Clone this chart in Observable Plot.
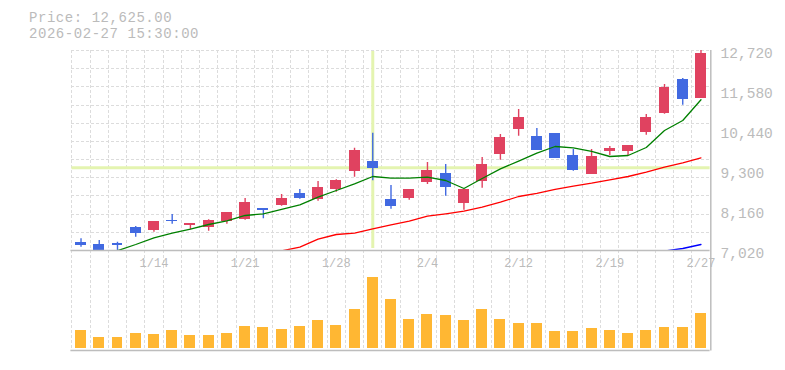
<!DOCTYPE html>
<html><head><meta charset="utf-8">
<script src="https://cdn.jsdelivr.net/npm/d3@7"></script>
<script src="https://cdn.jsdelivr.net/npm/@observablehq/plot@0.6"></script>
<style>
body{margin:0;background:#fff;}
#wrap{position:relative;width:785px;height:370px;overflow:hidden;background:#fff;}
#wrap svg{position:absolute;left:0;background:transparent;}
.hdr{position:absolute;left:29px;font-family:"Liberation Mono",monospace;font-size:14px;letter-spacing:0.55px;color:#bbb;line-height:16px;height:16px;white-space:pre;z-index:2;}
</style></head><body>
<div id="wrap"></div>
<script>
// ---- data ----
const dates = ["1/7","1/8","1/9","1/13","1/14","1/15","1/16","1/19","1/20","1/21","1/22","1/23","1/26","1/27","1/28","1/29","1/30","2/2","2/3","2/4","2/5","2/6","2/9","2/10","2/12","2/13","2/16","2/17","2/18","2/19","2/20","2/24","2/25","2/26","2/27"];
const opens  = [7239,7191,7210,7676,7599,7884,7741,7684,7855,7912,8217,8311,8645,8483,8768,9271,9565,8474,8511,8967,9215,8368,8995,9764,10477,10269,10355,9727,9195,9850,9850,10392,10933,11894,11361];
const highs  = [7353,7305,7257,7704,7847,8046,7790,7894,8103,8502,8217,8616,8758,8986,9035,9936,10363,8872,8758,9528,9471,8758,9670,10326,11039,10497,10355,9898,9898,9984,10013,10896,11751,11922,12720];
const lows   = [7114,7000,7000,7399,7542,7770,7610,7570,7770,7884,7922,8283,8483,8425,8682,9109,9006,8197,8454,8901,8568,8169,8796,9594,10278,9879,9651,9280,9195,9727,9727,10307,10905,11161,11361];
const closes = [7171,7020,7171,7513,7847,7847,7790,7875,8103,8388,8169,8502,8511,8816,9015,9870,9366,8283,8758,9300,8824,8758,9471,10241,10810,9879,9651,9309,9699,9927,10013,10810,11666,11332,12625];
const volumes = [18,11,11,15,14,18,13,13,15,22,21,19,22,28,23,39,71,49,29,34,33,28,39,29,25,25,17,17,20,18,15,18,21,21,35];
const ma5  = [null,null,7015,7191,7382,7513,7627,7761,7866,8018,8066,8189,8322,8539,8730,8921,9129,9081,9081,9109,9015,8787,9072,9348,9565,9793,9984,9947,9842,9699,9728,9956,10440,10725,11315];
const ma25 = [null,null,null,null,null,null,null,null,null,null,null,7010,7114,7342,7476,7513,7638,7752,7855,7998,8066,8140,8254,8397,8559,8645,8759,8853,8938,9035,9129,9252,9394,9519,9662];
const ma75 = [null,null,null,null,null,null,null,null,null,null,null,null,null,null,null,null,null,null,null,null,null,null,null,null,null,null,null,null,null,null,null,null,7005,7077,7191];
const yTicks = [7020,8160,9300,10440,11580,12720];
const xTickLabels = ["1/14","1/21","1/28","2/4","2/12","2/19","2/27"];
const crossDate = "1/30";
const crossPrice = 9377;
const headerPrice = "Price: 12,625.00";
const headerTime = "2026-02-27 15:30:00";

// ---- build ----
const n = dates.length;
const rows = d3.range(n).map(i => ({i, date: dates[i], open: opens[i], high: highs[i], low: lows[i], close: closes[i], vol: volumes[i], up: closes[i] >= opens[i]}));
const RED = "#e04260", BLUE = "#4169e1";
const GRID = "#dcdcdc", AXIS = "#bdbdbd", LABEL = "#bbbbbb";
const xDomain = [-0.5, n - 0.5];
const yDomain = [yTicks[0], yTicks[yTicks.length - 1]];
const gridX = d3.range(n + 1).map(k => k - 0.5);
const gridY = d3.range(1, 12).map(k => yDomain[0] + k * (yDomain[1] - yDomain[0]) / 11);
const maSeries = (arr) => arr.map((v, i) => ({i, v})).filter(d => d.v != null);
const ML = 71.4, MR = 785 - 709.6;

const price = Plot.plot({
  width: 785, height: 270,
  marginTop: 50, marginBottom: 20, marginLeft: ML, marginRight: MR,
  x: {domain: xDomain, axis: null},
  y: {domain: yDomain, axis: null},
  style: {background: "transparent", overflow: "visible"},
  marks: [
    Plot.ruleY(gridY, {stroke: GRID, strokeDasharray: "3,2", shapeRendering: "crispEdges"}),
    Plot.ruleX(gridX.slice(0, n), {stroke: GRID, strokeDasharray: "3,2", insetBottom: -20, shapeRendering: "crispEdges"}),
    Plot.ruleY([crossPrice], {stroke: "#e4f4b0", strokeWidth: 3}),
    Plot.ruleX([dates.indexOf(crossDate)], {stroke: "#e4f4b0", strokeWidth: 3, insetTop: 1, insetBottom: 2}),
    Plot.ruleX(rows, {x: "i", y1: "low", y2: "high", stroke: d => d.up ? RED : BLUE, strokeWidth: 1.4, clip: true}),
    Plot.rect(rows, {x1: d => d.i - 0.3, x2: d => d.i + 0.3, y1: "open", y2: "close", fill: d => d.up ? RED : BLUE, shapeRendering: "crispEdges", clip: true}),
    Plot.line(maSeries(ma5), {x: "i", y: "v", stroke: "#008000", strokeWidth: 1.3, clip: true}),
    Plot.line(maSeries(ma25), {x: "i", y: "v", stroke: "#ff0000", strokeWidth: 1.3, clip: true}),
    Plot.line(maSeries(ma75), {x: "i", y: "v", stroke: "#0000ff", strokeWidth: 1.3, clip: true}),
    Plot.ruleY([yDomain[0]], {stroke: AXIS, strokeWidth: 1.5, insetLeft: -1}),
    Plot.ruleX([xDomain[1]], {stroke: AXIS, strokeWidth: 1.5, dx: 0.7, insetBottom: -20}),
    Plot.text(yTicks, {x: xDomain[1], y: d => d, text: d => d3.format(",")(d), textAnchor: "start", dx: 10.5, dy: 2.7, fill: LABEL, fontFamily: "Liberation Mono", fontSize: 14.5}),
    Plot.text(xTickLabels, {x: d => dates.indexOf(d), y: yDomain[0], text: d => d, dy: 12.5, fill: LABEL, fontFamily: "Liberation Mono", fontSize: 12, letterSpacing: "-1.3px"})
  ]
});
price.style.top = "0px";

const vol = Plot.plot({
  width: 785, height: 100,
  marginTop: 0, marginBottom: 22, marginLeft: ML, marginRight: MR,
  x: {domain: xDomain, axis: null},
  y: {domain: [0, 78], axis: null},
  style: {background: "transparent", overflow: "visible"},
  marks: [
    Plot.ruleX(gridX.slice(0, n), {stroke: GRID, strokeDasharray: "3,2", insetBottom: -2, shapeRendering: "crispEdges"}),
    Plot.rect(rows, {x1: d => d.i - 0.3, x2: d => d.i + 0.3, y1: 0, y2: "vol", fill: "#ffb733", shapeRendering: "crispEdges"}),
    Plot.ruleY([0], {stroke: AXIS, strokeWidth: 1.5, dy: 2, insetLeft: -1}),
    Plot.ruleX([xDomain[1]], {stroke: AXIS, strokeWidth: 1.5, dx: 0.7, insetBottom: -2.5})
  ]
});
vol.style.top = "270px";

const wrap = document.getElementById("wrap");
wrap.appendChild(price);
wrap.appendChild(vol);
const h1 = document.createElement("div"); h1.className = "hdr"; h1.style.top = "10px"; h1.textContent = headerPrice;
const h2 = document.createElement("div"); h2.className = "hdr"; h2.style.top = "26px"; h2.textContent = headerTime;
wrap.appendChild(h1); wrap.appendChild(h2);
</script>
</body></html>
